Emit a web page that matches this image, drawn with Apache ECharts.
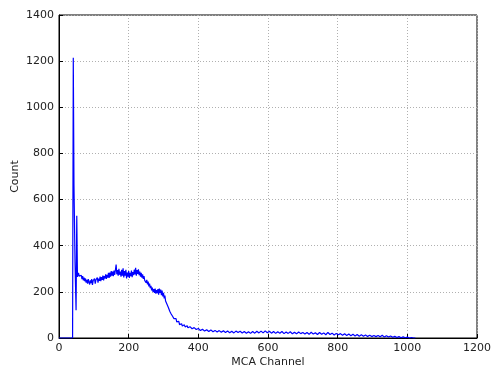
<!DOCTYPE html>
<html>
<head>
<meta charset="utf-8">
<script src="https://cdn.jsdelivr.net/npm/echarts@6/dist/echarts.min.js"></script>
<style>
  html, body { margin: 0; padding: 0; background: #fff; }
  #chart { width: 491px; height: 369px; }
</style>
</head>
<body>
<div id="chart"></div>
<script>
// MCA spectrum
const channels = [
  0, 39, 41, 43, 46, 49, 51, 53,
  56, 58, 60, 62, 64, 66, 68, 70, 72, 74, 76, 78, 80, 82, 84, 86, 88, 90, 92, 94, 96, 98,
  100, 102, 104, 106, 108, 110, 112, 114, 116, 118, 120, 122, 124, 126, 128, 130, 132, 134, 136, 138,
  140, 142, 144, 146, 148, 150, 152, 154, 156, 158, 160, 162, 164, 166, 168, 170, 172, 174, 176, 178,
  180, 182, 184, 186, 188, 190, 192, 194, 196, 198, 200, 202, 204, 206, 208, 210, 212, 214, 216, 218,
  220, 222, 224, 226, 228, 230, 232, 234, 236, 238, 240, 242, 244, 246, 248, 250, 252, 254, 256, 258,
  260, 262, 264, 266, 268, 270, 272, 274, 276, 278, 280, 282, 284, 286, 288, 290, 292, 294, 296, 298,
  300, 302, 304, 306, 308, 310, 312, 314, 316, 318, 320, 322, 324, 326, 328, 330, 332, 334, 336, 338,
  340, 342, 344, 346, 348, 350, 352, 354, 356, 358, 360, 362, 364, 366, 368, 370, 372, 374, 376, 378,
  380, 382, 384, 386, 388, 390, 392, 394, 396, 398, 400,
  406, 412, 418, 424, 430, 436, 442, 448, 454, 460, 466, 472, 478, 484, 490, 496, 502, 508, 514, 520,
  526, 532, 538, 544, 550, 556, 562, 568, 574, 580, 586, 592, 598, 604, 610, 616, 622, 628, 634, 640,
  646, 652, 658, 664, 670, 676, 682, 688, 694, 700, 706, 712, 718, 724, 730, 736, 742, 748, 754, 760,
  766, 772, 778, 784, 790, 796, 802, 808, 814, 820, 826, 832, 838, 844, 850, 856, 862, 868, 874, 880,
  886, 892, 898, 904, 910, 916, 922, 928, 934, 940, 946, 952, 958, 964, 970, 976, 982, 988, 994, 1000,
  1006, 1012, 1018, 1023
];
const counts = [
  0, 0, 1215, 660, 330, 120, 530, 265,
  282, 268, 276, 260, 272, 255, 268, 250, 262, 246, 258, 240, 252, 236, 255, 242, 232, 250, 238, 255, 230, 248,
  240, 258, 236, 252, 244, 262, 240, 258, 248, 266, 246, 264, 252, 270, 250, 268, 258, 276, 256, 274,
  262, 282, 260, 284, 266, 290, 270, 288, 268, 292, 274, 296, 318, 276, 294, 270, 300, 274, 288, 266,
  296, 270, 302, 262, 290, 270, 296, 258, 284, 266, 290, 260, 282, 268, 292, 264, 286, 272, 296, 276,
  304, 270, 294, 278, 298, 272, 288, 266, 282, 262, 276, 256, 268, 250, 258, 240, 252, 232, 244, 224,
  236, 216, 226, 206, 218, 200, 212, 196, 214, 192, 208, 194, 212, 188, 214, 196, 210, 186, 206, 180,
  196, 172, 184, 160, 168, 146, 152, 132, 138, 116, 124, 104, 110, 94, 100, 84, 92, 76, 84, 70,
  78, 64, 72, 58, 66, 56, 62, 52, 60, 50, 57, 48, 55, 46, 53, 44, 51, 43, 49, 42,
  48, 40, 46, 39, 45, 38, 44, 37, 43, 35, 41,
  32, 38, 30, 36, 28, 35, 27, 33, 26, 32, 25, 31, 24, 30, 23, 29, 22, 30, 24, 29,
  22, 28, 21, 27, 20, 28, 21, 29, 22, 30, 22, 31, 23, 29, 21, 28, 20, 27, 21, 28,
  19, 26, 20, 27, 18, 25, 18, 26, 19, 24, 17, 24, 16, 25, 17, 23, 15, 24, 16, 22,
  14, 24, 15, 21, 13, 20, 14, 19, 12, 18, 11, 17, 10, 16, 9, 15, 8, 14, 8, 13,
  7, 12, 6, 11, 6, 11, 5, 12, 4, 10, 4, 9, 3, 7, 2, 6, 1, 5, 1, 4,
  0, 2, 0, 0
];

const xTicks = [0, 200, 400, 600, 800, 1000, 1200];
const yTicks = [0, 200, 400, 600, 800, 1000, 1200, 1400];

const FONT = { fontFamily: 'DejaVu Sans', fontSize: 11, color: '#222' };
const GRID_LINE = { show: true, lineStyle: { color: '#b0b0b0', type: [1, 2], width: 1 } };

const chart = echarts.init(document.getElementById('chart'));
chart.setOption({
  animation: false,
  grid: {
    left: 59, right: 14, top: 15, bottom: 31,
    outerBoundsMode: 'none', containLabel: false,
    show: true, borderColor: '#000', borderWidth: 1
  },
  xAxis: {
    type: 'value',
    min: xTicks[0], max: xTicks[xTicks.length - 1], interval: 200,
    name: 'MCA Channel', nameLocation: 'middle', nameGap: 19, nameMoveOverlap: false,
    nameTextStyle: FONT,
    axisLine: { show: true, lineStyle: { color: '#000' } },
    axisTick: { show: true, inside: true, length: 4, lineStyle: { color: '#000' } },
    axisLabel: { ...FONT, margin: 5, formatter: v => String(v) },
    splitLine: GRID_LINE
  },
  yAxis: {
    type: 'value',
    min: yTicks[0], max: yTicks[yTicks.length - 1], interval: 200,
    name: 'Count', nameLocation: 'middle', nameGap: 38, nameMoveOverlap: false,
    nameTextStyle: FONT,
    axisLine: { show: true, lineStyle: { color: '#000' } },
    axisTick: { show: true, inside: true, length: 4, lineStyle: { color: '#000' } },
    axisLabel: { ...FONT, margin: 5, formatter: v => String(v) },
    splitLine: GRID_LINE
  },
  series: [{
    type: 'line',
    data: channels.map((c, i) => [c, counts[i]]),
    showSymbol: false,
    sampling: null,
    lineStyle: { color: '#0000ff', width: 1.2 },
    itemStyle: { color: '#0000ff' }
  }]
});
</script>
</body>
</html>
